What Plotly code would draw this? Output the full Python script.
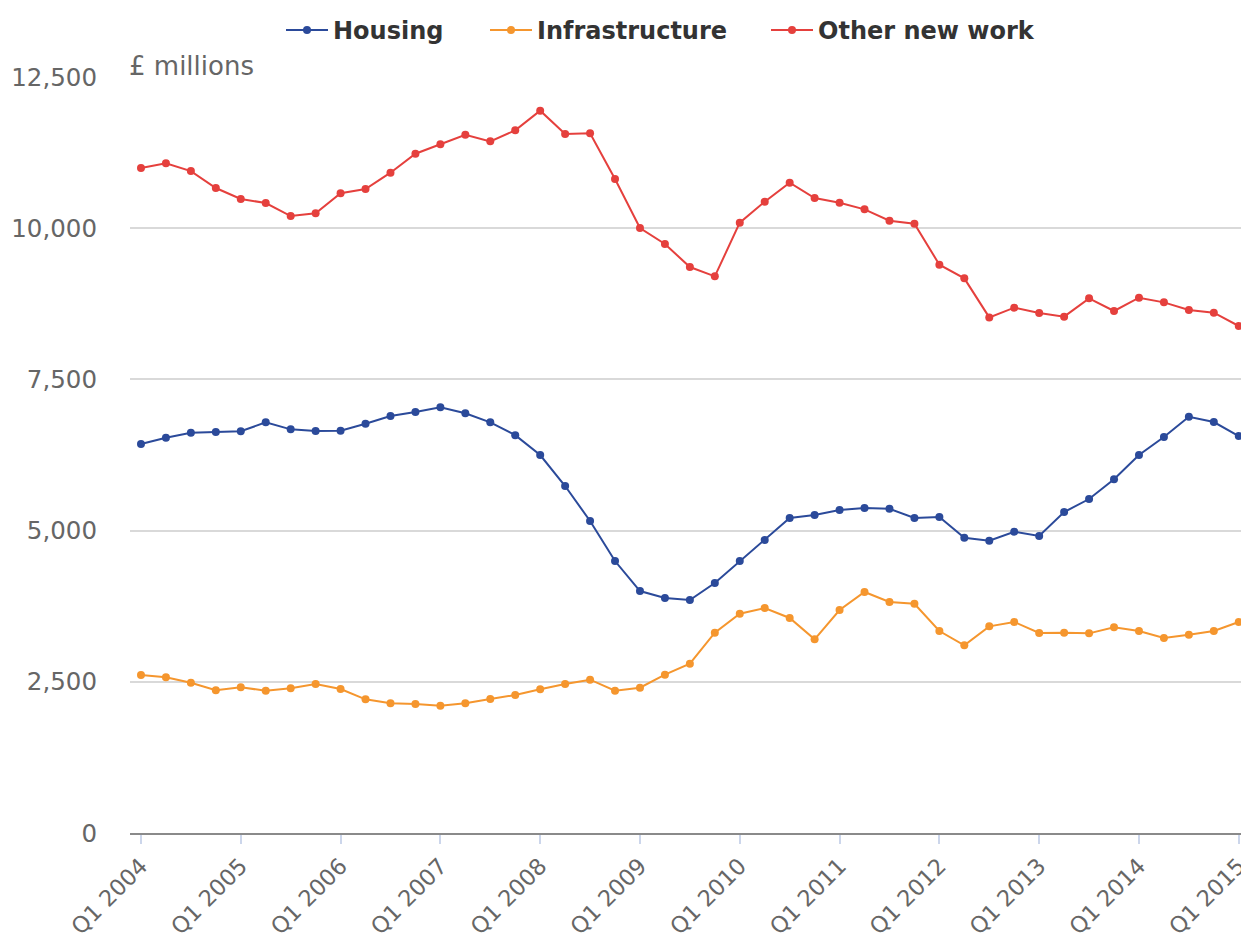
import plotly.graph_objects as go

quarters = [f"Q{q} {y}" for y in range(2004, 2016) for q in range(1, 5)][:45]

housing = [6432, 6536, 6619, 6630, 6642, 6790, 6674, 6647, 6652, 6768, 6895, 6961,
           7038, 6939, 6790, 6578, 6250, 5737, 5159, 4497, 4001, 3886, 3852, 4134,
           4497, 4844, 5208, 5258, 5340, 5374, 5360, 5210, 5225, 4883, 4833, 4982,
           4911, 5307, 5522, 5848, 6250, 6547, 6883, 6795, 6564]

infrastructure = [2612, 2574, 2485, 2359, 2409, 2353, 2392, 2464, 2381, 2210, 2144, 2133,
                  2105, 2144, 2216, 2282, 2376, 2464, 2535, 2353, 2403, 2618, 2800, 3312,
                  3626, 3720, 3555, 3202, 3687, 3985, 3819, 3791, 3340, 3103, 3417, 3489,
                  3307, 3312, 3301, 3401, 3340, 3224, 3279, 3340, 3489]

other_new_work = [10995, 11073, 10945, 10664, 10483, 10416, 10201, 10246, 10577, 10648, 10918, 11232,
                  11387, 11546, 11436, 11618, 11943, 11557, 11569, 10813, 10003, 9739, 9358, 9204,
                  10091, 10438, 10752, 10499, 10422, 10312, 10124, 10075, 9397, 9171, 8525, 8686,
                  8598, 8537, 8840, 8631, 8851, 8774, 8647, 8603, 8383]

series_names = ["Housing", "Infrastructure", "Other new work"]
series_colors = ["#2b4a9a", "#f5962e", "#e5403d"]
series_values = [housing, infrastructure, other_new_work]
legend_ids = ["legend", "legend2", "legend3"]
legend_x_px = [273, 477, 758]   # left edge of each legend box (figure px)

tick_labels = [q for q in quarters if q.startswith("Q1")]
y_ticks = [0, 2500, 5000, 7500, 10000, 12500]

FONT = "DejaVu Sans"
FIG_W, FIG_H = 1241, 935

fig = go.Figure()
for name, color, vals, lg in zip(series_names, series_colors, series_values, legend_ids):
    fig.add_trace(go.Scatter(
        x=quarters, y=vals, name=name, mode="lines+markers",
        line=dict(color=color, width=2),
        marker=dict(color=color, size=8),
        legend=lg,
    ))

legend_common = dict(
    orientation="h", xanchor="left", xref="container",
    y=1.0, yanchor="top", yref="container",
    font=dict(family=FONT, size=24, color="#333333", weight="bold"),
    itemwidth=42, bgcolor="rgba(0,0,0,0)",
)
legends = {}
for lg, xp in zip(legend_ids, legend_x_px):
    legends[lg] = dict(legend_common, x=xp / FIG_W)

fig.update_layout(
    width=FIG_W, height=FIG_H,
    paper_bgcolor="white", plot_bgcolor="white",
    margin=dict(l=122, r=0, t=69, b=110),
    showlegend=True,
    **legends,
    xaxis=dict(
        type="category",
        range=[-0.44, 44.41],
        tickmode="array", tickvals=tick_labels, ticktext=tick_labels,
        tickangle=-45,
        ticks="outside", ticklen=9, tickwidth=2, tickcolor="#ccd6eb",
        showline=True, linecolor="#8a8a8a", linewidth=2,
        showgrid=False, automargin=False,
        tickfont=dict(family=FONT, size=22.5, color="#666666"),
    ),
    yaxis=dict(
        range=[0, 12500],
        tickmode="array", tickvals=y_ticks,
        tickformat=",",
        showgrid=True, gridcolor="#d9d9d9", gridwidth=2,
        zeroline=False, automargin=False,
        showline=False, ticks="",
        ticklabelstandoff=32,
        tickfont=dict(family=FONT, size=24.5, color="#666666"),
    ),
    shapes=[dict(
        type="line", xref="paper", x0=0, x1=1,
        yref="y", ysizemode="pixel", yanchor=0, y0=-2.5, y1=-2.5,
        line=dict(color="#ccd6eb", width=1.5), layer="above",
    )],
    annotations=[dict(
        text="£ millions", xref="paper", yref="paper", x=0, y=1,
        xanchor="left", yanchor="bottom", yshift=-6, xshift=-3, showarrow=False,
        font=dict(family=FONT, size=26, color="#666666"),
    )],
)

fig.write_html("out.html")
